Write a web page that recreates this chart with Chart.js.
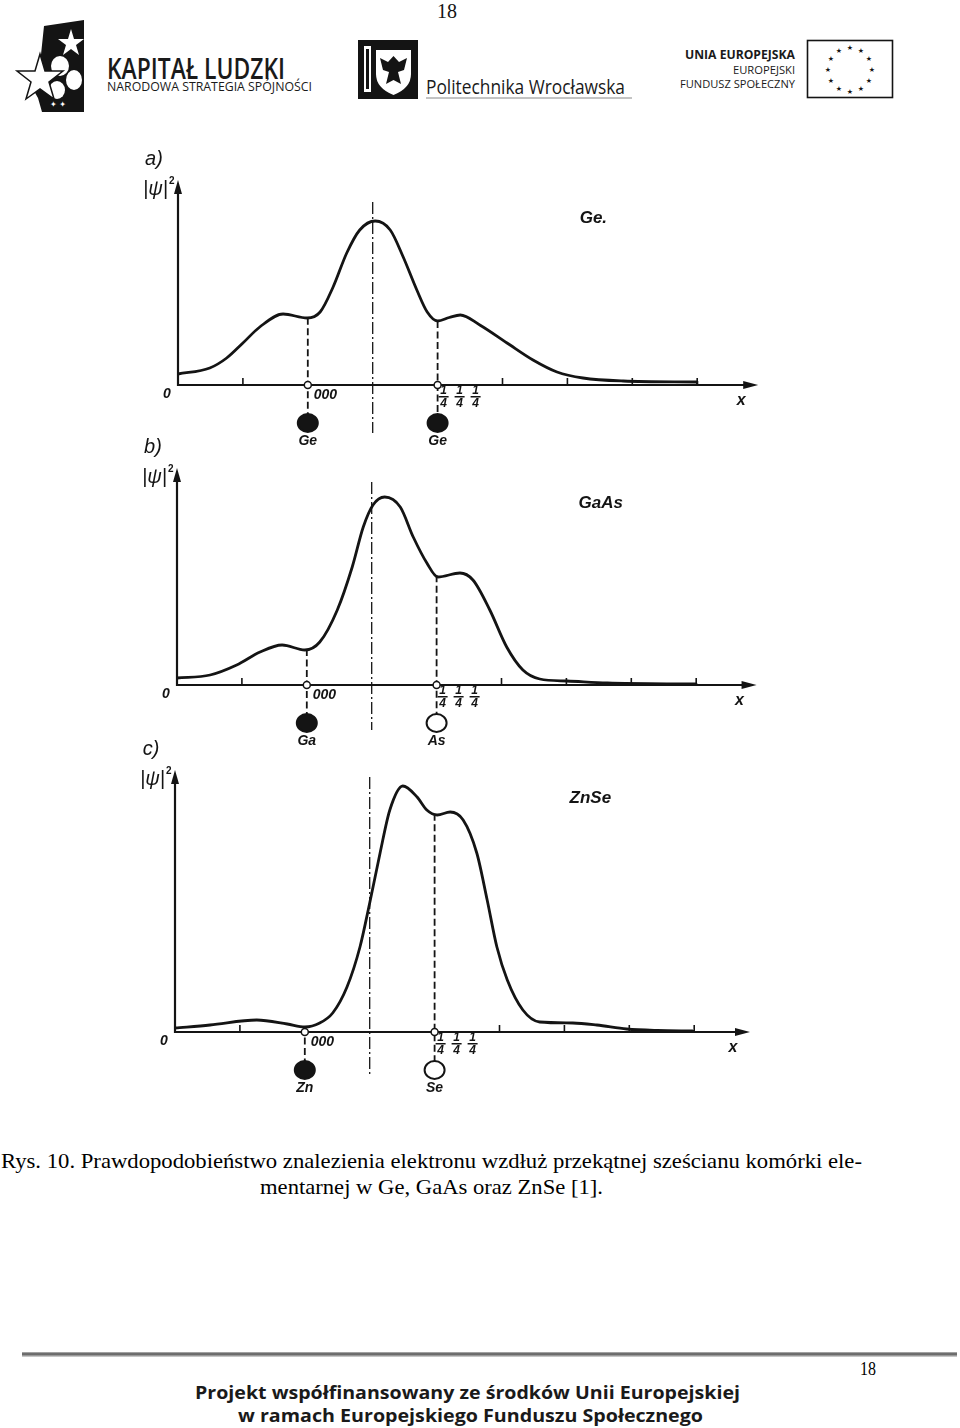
<!DOCTYPE html>
<html><head><meta charset="utf-8">
<script src="https://cdn.jsdelivr.net/npm/chart.js@4.4.1/dist/chart.umd.min.js"></script>
<style>
html,body{margin:0;padding:0;background:#fff;}
body{width:960px;height:1428px;position:relative;overflow:hidden;font-family:"Liberation Serif",serif;color:#141414;}
.abs{position:absolute;white-space:nowrap;line-height:1;}
canvas{position:absolute;}
</style></head><body>

<svg class="abs" style="left:0;top:0" width="960" height="120" viewBox="0 0 960 120">
  <!-- Kapitał Ludzki emblem -->
  <path d="M44 26 L84 20 L84 112 L42 112 L38 98 L30 84 L40 64 Z" fill="#141414"/>
  <polygon points="71,29 74,39 84,39 76,45 79,55 71,49 63,55 66,45 58,39 68,39" fill="#fff"/>
  <ellipse cx="60" cy="66" rx="9" ry="10" fill="#fff"/>
  <ellipse cx="74" cy="80" rx="8" ry="10" fill="#fff"/>
  <ellipse cx="57" cy="90" rx="8" ry="9" fill="#fff"/>
  <polygon points="40,54 45,71 63,71 49,82 54,99 40,89 26,99 31,82 17,71 35,71" fill="#fff" stroke="#141414" stroke-width="1.5"/>
  <text x="50" y="107" font-family="DejaVu Sans" font-size="8" fill="#fff">✦ ✦</text>
  <!-- Politechnika emblem -->
  <rect x="358" y="40" width="60" height="59" fill="#141414"/>
  <rect x="364" y="46" width="7" height="46" fill="#fff"/>
  <rect x="366" y="49" width="3" height="40" fill="#141414"/>
  <path d="M376 50 H411 V74 Q411 88 393.5 95 Q376 88 376 74 Z" fill="#fff"/>
  <path d="M393.5 56 L399 62 L407 58 L404 70 L398 72 L401 84 L393.5 80 L386 84 L389 72 L383 70 L380 58 L388 62 Z" fill="#141414"/>
  <!-- EU flag -->
  <rect x="807.5" y="40.5" width="85" height="57" fill="#fff" stroke="#141414" stroke-width="1.6"/>
  <g fill="#141414" font-family="DejaVu Sans" font-size="7" text-anchor="middle">
    <text x="850" y="50">★</text><text x="861" y="53">★</text><text x="869" y="61">★</text>
    <text x="872" y="72">★</text><text x="869" y="83">★</text><text x="861" y="91">★</text>
    <text x="850" y="94">★</text><text x="839" y="91">★</text><text x="831" y="83">★</text>
    <text x="828" y="72">★</text><text x="831" y="61">★</text><text x="839" y="53">★</text>
  </g>
  <line x1="426" y1="98" x2="632" y2="98" stroke="#888" stroke-width="1"/>
</svg>
<div class="abs" style="left:22px;top:1352px;width:935px;height:5px;background:linear-gradient(#bbb,#555 40%,#999 70%,#ddd);"></div>

<script>
// ---------- data ----------
const xTickValues = [1, 5, 6, 7, 8];
const atomPositions = [2, 4];
const centerLineX = 3.0;
const atomLevel = -3.8;
const fractionLabels = ['1/4', '1/4', '1/4'];
const originLabel = '000';

const geX = [0, 0.49, 0.75, 1.0, 1.26, 1.62, 1.99, 2.19, 2.39, 2.6, 2.8, 3.04, 3.27, 3.47, 3.68, 3.84, 4.0, 4.18, 4.35, 4.65, 5.07, 5.47, 5.84, 6.24, 6.86, 8.0];
const geY = [1.1, 1.7, 2.7, 4.2, 5.8, 7.1, 6.7, 7.3, 9.8, 13.2, 15.5, 16.4, 15.5, 12.8, 9.5, 7.3, 6.4, 6.75, 7.0, 6.0, 4.2, 2.5, 1.3, 0.7, 0.4, 0.3];

const gaasX = [0, 0.51, 0.92, 1.28, 1.62, 1.97, 2.2, 2.47, 2.7, 2.87, 3.02, 3.2, 3.44, 3.64, 3.85, 4.02, 4.36, 4.56, 4.82, 5.08, 5.33, 5.59, 6.01, 6.63, 8.0];
const gaasY = [0.7, 1.0, 2.0, 3.3, 4.0, 3.5, 4.3, 7.5, 11.8, 15.8, 18.0, 18.8, 17.8, 14.8, 12.2, 10.8, 11.2, 10.5, 7.5, 3.8, 1.5, 0.6, 0.4, 0.2, 0.1];

const znseX = [0, 0.54, 1.26, 1.73, 2.0, 2.23, 2.43, 2.65, 2.85, 3.0, 3.16, 3.31, 3.51, 3.73, 3.88, 4.04, 4.24, 4.44, 4.65, 4.81, 4.96, 5.12, 5.36, 5.62, 6.13, 6.5, 6.96, 7.43, 7.98];
const znseY = [0.4, 0.7, 1.2, 0.8, 0.5, 0.9, 1.9, 4.5, 8.5, 12.9, 17.9, 22.2, 24.6, 23.5, 22.2, 21.7, 22.0, 21.2, 17.9, 13.2, 8.5, 5.2, 2.2, 1.0, 0.9, 0.7, 0.3, 0.15, 0.1];

const panelLetters = ['a)', 'b)', 'c)'];
const materialNames = ['Ge.', 'GaAs', 'ZnSe'];
const atomNames = [['Ge', 'Ge'], ['Ga', 'As'], ['Zn', 'Se']];
const atomFilled = [[true, true], [true, false], [true, false]];

// ---------- layout ----------
const XU = 64.9, YU = 10, INK = '#141414';
const LBL = '"Liberation Sans", Arial, sans-serif';
const panels = [
  {xs: geX, ys: geY, ox: 178, oy: 385, left: 100, top: 135, w: 700, h: 330, yTop: 20.5, cTop: 18.3, cBot: -4.8, xArrow: 8.94, nameX: 6.4, nameY: 16.8},
  {xs: gaasX, ys: gaasY, ox: 177, oy: 685, left: 100, top: 430, w: 700, h: 335, yTop: 21.7, cTop: 20.3, cBot: -4.5, xArrow: 8.93, nameX: 6.53, nameY: 18.3},
  {xs: znseX, ys: znseY, ox: 175, oy: 1032, left: 100, top: 735, w: 700, h: 380, yTop: 26.2, cTop: 25.5, cBot: -4.5, xArrow: 8.86, nameX: 6.4, nameY: 23.5}
];
const fracOffsets = [6, 22, 38];

function lerp(xs, ys, x) {
  for (let i = 1; i < xs.length; i++) {
    if (xs[i] >= x) { const t = (x - xs[i-1]) / (xs[i] - xs[i-1]); return ys[i-1] + t * (ys[i] - ys[i-1]); }
  }
  return ys[ys.length - 1];
}
function addText(txt, x, y, font, align) {
  const d = document.createElement('div');
  d.className = 'abs'; d.textContent = txt; d.style.font = font; d.style.lineHeight = '1';
  d.style.left = x + 'px'; d.style.top = y + 'px'; d.style.color = INK;
  const tx = align === 'center' ? '-50%' : align === 'right' ? '-100%' : '0';
  d.style.transform = `translate(${tx},-50%)`;
  document.body.appendChild(d);
  return d;
}
function addFit(txt, x, y, width, font, color) {
  const d = document.createElement('div');
  d.className = 'abs'; d.textContent = txt; d.style.font = font; d.style.lineHeight = '1';
  d.style.left = x + 'px'; d.style.top = y + 'px'; d.style.color = color || INK;
  document.body.appendChild(d);
  const r = d.getBoundingClientRect().width;
  d.style.transformOrigin = 'left center';
  d.style.transform = `translateY(-50%) scaleX(${width / r})`;
  return d;
}

function deco(p, k) {
  return {
    id: 'deco' + k,
    afterDatasetsDraw(chart) {
      const c = chart.ctx, sx = chart.scales.x, sy = chart.scales.y;
      const X = v => sx.getPixelForValue(v), Y = v => sy.getPixelForValue(v);
      c.save(); c.strokeStyle = INK; c.fillStyle = INK;
      c.lineWidth = 2.2;
      c.beginPath(); c.moveTo(X(0) - 1, Y(0)); c.lineTo(X(p.xArrow) - 10, Y(0)); c.stroke();
      c.beginPath(); c.moveTo(X(p.xArrow), Y(0)); c.lineTo(X(p.xArrow) - 15, Y(0) - 4); c.lineTo(X(p.xArrow) - 15, Y(0) + 4); c.closePath(); c.fill();
      c.beginPath(); c.moveTo(X(0), Y(0) + 1); c.lineTo(X(0), Y(p.yTop) + 10); c.stroke();
      c.beginPath(); c.moveTo(X(0), Y(p.yTop)); c.lineTo(X(0) - 4, Y(p.yTop) + 14); c.lineTo(X(0) + 4, Y(p.yTop) + 14); c.closePath(); c.fill();
      c.lineWidth = 1.6;
      xTickValues.forEach(t => { c.beginPath(); c.moveTo(X(t), Y(0)); c.lineTo(X(t), Y(0) - 7); c.stroke(); });
      const lx = p.xs[p.xs.length - 1], ly = p.ys[p.ys.length - 1];
      c.lineWidth = 2.2; c.beginPath(); c.moveTo(X(lx), Y(ly) - 1); c.lineTo(X(lx), Y(0)); c.stroke();
      c.lineWidth = 1.3; c.setLineDash([12, 3, 2, 3]);
      c.beginPath(); c.moveTo(X(centerLineX), Y(p.cTop)); c.lineTo(X(centerLineX), Y(p.cBot)); c.stroke();
      c.lineWidth = 1.8; c.setLineDash([7, 3.5]);
      atomPositions.forEach(ax => { c.beginPath(); c.moveTo(X(ax), Y(lerp(p.xs, p.ys, ax))); c.lineTo(X(ax), Y(atomLevel) - 9); c.stroke(); });
      c.setLineDash([]);
      atomPositions.forEach((ax, i) => {
        c.lineWidth = 1.5; c.beginPath(); c.arc(X(ax), Y(0), 3.5, 0, 2 * Math.PI); c.fillStyle = '#fff'; c.fill(); c.stroke();
        c.beginPath(); c.ellipse(X(ax), Y(atomLevel), 10, 9, 0, 0, 2 * Math.PI);
        c.fillStyle = atomFilled[k][i] ? INK : '#fff'; c.fill(); c.lineWidth = 2; c.stroke();
      });
      c.fillStyle = INK;
      fracOffsets.forEach(o => c.fillRect(X(atomPositions[1]) + o - 5, Y(0) + 11, 10, 1.5));
      c.restore();
    }
  };
}

panels.forEach((p, k) => {
  const cv = document.createElement('canvas');
  cv.width = p.w; cv.height = p.h; cv.style.left = p.left + 'px'; cv.style.top = p.top + 'px';
  document.body.appendChild(cv);
  const xMax = 9.3, yMax = p.yTop + 1;
  const pad = {left: p.ox - p.left, right: p.left + p.w - (p.ox + xMax * XU), top: p.oy - yMax * YU - p.top, bottom: p.top + p.h - p.oy};
  const chart = new Chart(cv, {
    type: 'scatter',
    data: {datasets: [{data: p.xs.map((x, i) => ({x, y: p.ys[i]})), showLine: true, borderColor: INK, borderWidth: 2.8,
      pointRadius: 0, tension: 0.4, cubicInterpolationMode: 'monotone', clip: false, fill: false}]},
    options: {responsive: false, animation: false, events: [], devicePixelRatio: 1,
      layout: {padding: pad},
      plugins: {legend: {display: false}, tooltip: {enabled: false}},
      scales: {x: {type: 'linear', min: 0, max: xMax, display: false}, y: {type: 'linear', min: 0, max: yMax, display: false}}},
    plugins: [deco(p, k)]
  });
  const X = v => p.left + chart.scales.x.getPixelForValue(v), Y = v => p.top + chart.scales.y.getPixelForValue(v);
  addText(panelLetters[k], X(0) - 24, Y(p.yTop) - 22, `italic 20px ${LBL}`, 'center');
  addText('|ψ|', X(0) - 10, Y(p.yTop) + 8, `italic 20px ${LBL}`, 'right');
  addText('2', X(0) - 9, Y(p.yTop) + 1, `bold 10px ${LBL}`, 'left');
  addText('0', X(0) - 11, Y(0) + 8, `italic bold 14px ${LBL}`, 'center');
  addText('x', X(p.xArrow) - 17, Y(0) + 15, `italic bold 16px ${LBL}`, 'center');
  addText(originLabel, X(atomPositions[0]) + 6, Y(0) + 9, `italic bold 14px ${LBL}`, 'left');
  fracOffsets.forEach((o, j) => {
    const parts = fractionLabels[j].split('/');
    addText(parts[0], X(atomPositions[1]) + o, Y(0) + 5, `italic bold 12px ${LBL}`, 'center');
    addText(parts[1], X(atomPositions[1]) + o, Y(0) + 18, `italic bold 12px ${LBL}`, 'center');
  });
  atomPositions.forEach((ax, i) => addText(atomNames[k][i], X(ax), Y(atomLevel) + 17, `italic bold 14px ${LBL}`, 'center'));
  addText(materialNames[k], X(p.nameX), Y(p.nameY), `italic bold 17px ${LBL}`, 'center');
});

// ---------- page texts ----------
addFit('18', 437, 11, 20, '20px "Liberation Serif"');
addFit('KAPITAŁ LUDZKI', 107, 67, 178, '600 29px "Open Sans"', '#1a1a1a');
addFit('NARODOWA STRATEGIA SPÓJNOŚCI', 107, 87, 205, '12.5px "Open Sans"', '#1a1a1a');
addFit('Politechnika Wrocławska', 426, 87, 199, '20px "Open Sans"', '#1a1a1a');
addFit('UNIA EUROPEJSKA', 685, 55, 110, 'bold 12px "Open Sans"', '#1a1a1a');
addFit('EUROPEJSKI', 733, 69, 62, '11px "Open Sans"', '#1a1a1a');
addFit('FUNDUSZ SPOŁECZNY', 680, 83, 115, '11px "Open Sans"', '#1a1a1a');
addFit('Rys. 10. Prawdopodobieństwo znalezienia elektronu wzdłuż przekątnej sześcianu komórki ele-', 1, 1161, 861, '21px "Liberation Serif"', '#000');
addFit('mentarnej w Ge, GaAs oraz ZnSe [1].', 260, 1187, 343, '21px "Liberation Serif"', '#000');
addFit('18', 860, 1369, 16, '18px "Liberation Serif"', '#000');
addFit('Projekt współfinansowany ze środków Unii Europejskiej', 195, 1392, 545, 'bold 17px "Open Sans"', '#1a1a1a');
addFit('w ramach Europejskiego Funduszu Społecznego', 238, 1415, 465, 'bold 17px "Open Sans"', '#1a1a1a');
</script>
</body></html>
